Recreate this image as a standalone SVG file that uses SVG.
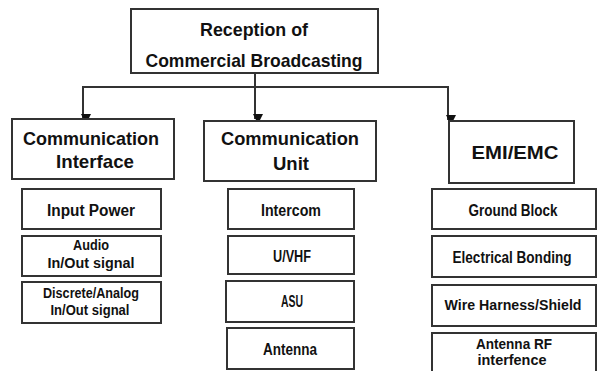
<svg xmlns="http://www.w3.org/2000/svg" width="597" height="371" viewBox="0 0 597 371">
<defs>
<marker id="ah" markerWidth="10" markerHeight="10" refX="5" refY="8" orient="auto" markerUnits="userSpaceOnUse" viewBox="0 0 10 10">
<path d="M0,0 L10,0 L5,10 Z" fill="#111" transform="rotate(-90 5 5)"/>
</marker>
<style>
.b{fill:#fff;stroke:#333;stroke-width:2}
.t{font-family:"Liberation Sans",Arial,sans-serif;font-weight:bold;fill:#111;text-anchor:middle}
.h{font-size:19px}
.s{font-size:16px}
.s2{font-size:14.5px}
.c{stroke:#333;stroke-width:2;fill:none}
</style>
</defs>
<rect width="597" height="371" fill="#fff"/>
<g id="connectors">
<line class="c" x1="255" y1="73" x2="255" y2="119" marker-end="url(#ah)"/>
<polyline class="c" points="83,119 83,87 448,87 448,119" />
<line class="c" x1="83" y1="100" x2="83" y2="119" marker-end="url(#ah)"/>
<line class="c" x1="448" y1="100" x2="448" y2="120" marker-end="url(#ah)"/>
</g>
<g id="root">
<rect class="b" x="131" y="9" width="247" height="64"/>
<text class="t h" x="254" y="36" textLength="108" lengthAdjust="spacingAndGlyphs">Reception of</text>
<text class="t h" x="254" y="67" textLength="217" lengthAdjust="spacingAndGlyphs">Commercial Broadcasting</text>
</g>
<g id="comm-interface">
<rect class="b" x="12" y="119" width="162" height="60"/>
<text class="t h" x="91" y="145" textLength="136" lengthAdjust="spacingAndGlyphs">Communication</text>
<text class="t h" x="95" y="168" textLength="78" lengthAdjust="spacingAndGlyphs">Interface</text>
</g>
<g id="input-power"><rect class="b" x="22" y="189" width="139" height="40"/><text class="t s" x="91" y="216" textLength="88" lengthAdjust="spacingAndGlyphs">Input Power</text></g>
<g id="audio"><rect class="b" x="22" y="236" width="139" height="40"/><text class="t s2" x="91" y="250" textLength="36" lengthAdjust="spacingAndGlyphs">Audio</text><text class="t s2" x="91" y="268" textLength="87" lengthAdjust="spacingAndGlyphs">In/Out signal</text></g>
<g id="discrete"><rect class="b" x="22" y="282" width="139" height="41"/><text class="t s2" x="91" y="298" textLength="96" lengthAdjust="spacingAndGlyphs">Discrete/Analog</text><text class="t s2" x="90" y="315" textLength="79" lengthAdjust="spacingAndGlyphs">In/Out signal</text></g>
<g id="comm-unit">
<rect class="b" x="204" y="121" width="172" height="60"/>
<text class="t h" x="290" y="145" textLength="138" lengthAdjust="spacingAndGlyphs">Communication</text>
<text class="t h" x="291" y="170" textLength="36" lengthAdjust="spacingAndGlyphs">Unit</text>
</g>
<g id="intercom"><rect class="b" x="228" y="189" width="126" height="40"/><text class="t s" x="291" y="216" textLength="60" lengthAdjust="spacingAndGlyphs">Intercom</text></g>
<g id="uvhf"><rect class="b" x="228" y="236" width="126" height="38"/><text class="t s" x="292" y="262" textLength="38" lengthAdjust="spacingAndGlyphs">U/VHF</text></g>
<g id="asu"><rect class="b" x="226" y="281" width="128" height="41"/><text class="t s" x="292" y="307" textLength="22" lengthAdjust="spacingAndGlyphs">ASU</text></g>
<g id="antenna"><rect class="b" x="227" y="328" width="127" height="41"/><text class="t s" x="290" y="355" textLength="54" lengthAdjust="spacingAndGlyphs">Antenna</text></g>
<g id="emi">
<rect class="b" x="449" y="121" width="125" height="62"/>
<text class="t h" x="515" y="159" textLength="87" lengthAdjust="spacingAndGlyphs">EMI/EMC</text>
</g>
<g id="ground"><rect class="b" x="432" y="189" width="164" height="40"/><text class="t s" x="513" y="216" textLength="89" lengthAdjust="spacingAndGlyphs">Ground Block</text></g>
<g id="bonding"><rect class="b" x="432" y="236" width="164" height="41"/><text class="t s" x="512" y="263" textLength="119" lengthAdjust="spacingAndGlyphs">Electrical Bonding</text></g>
<g id="harness"><rect class="b" x="432" y="285" width="164" height="41"/><text class="t s2" x="513" y="310" textLength="137" lengthAdjust="spacingAndGlyphs">Wire Harness/Shield</text></g>
<g id="rf"><rect class="b" x="432" y="333" width="164" height="40"/><text class="t s2" x="514" y="349" textLength="76" lengthAdjust="spacingAndGlyphs">Antenna RF</text><text class="t s2" x="512" y="365" textLength="69" lengthAdjust="spacingAndGlyphs">interfence</text></g>
</svg>
